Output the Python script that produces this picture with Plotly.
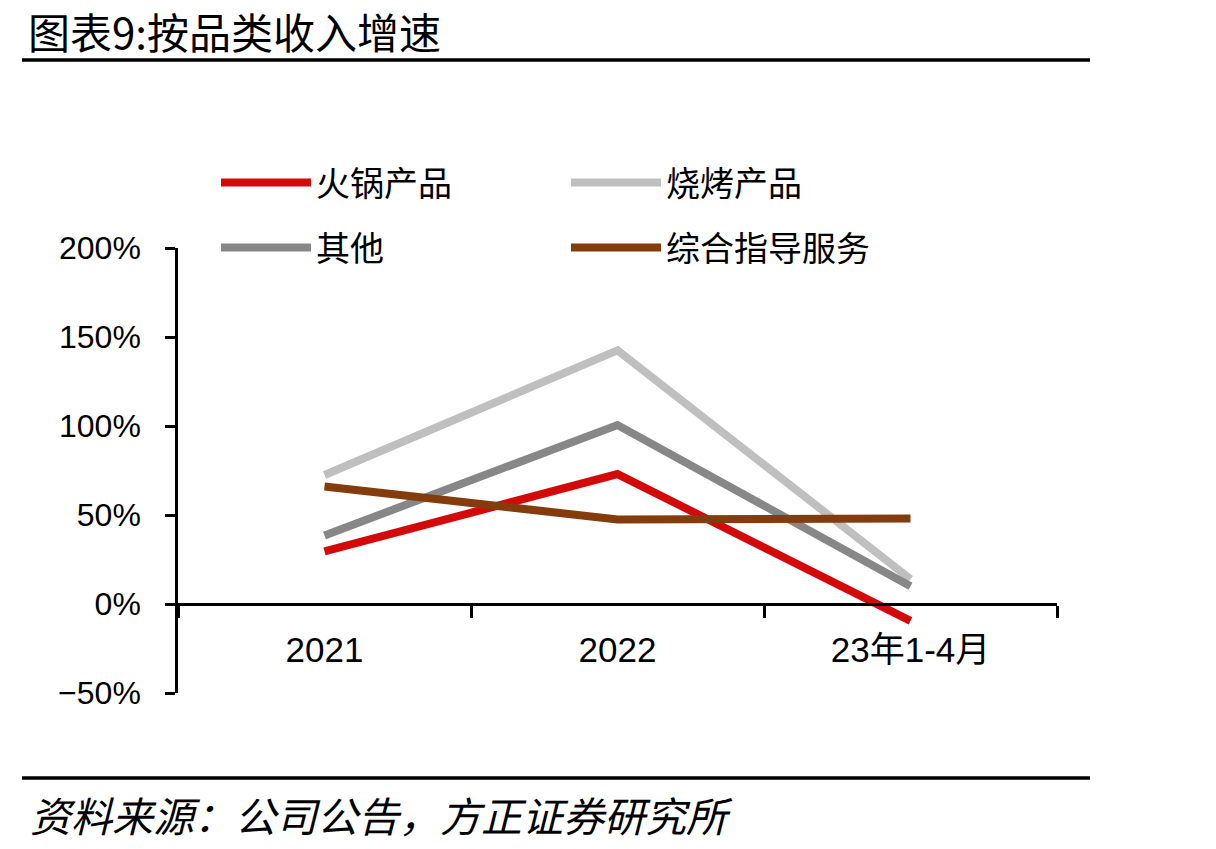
import plotly.graph_objects as go

categories = ["2021", "2022", "23年1-4月"]
hotpot = [29.5, 73.0, -9.5]
bbq = [72.5, 142.5, 14.0]
other = [38.5, 100.5, 10.0]
service = [66.0, 47.5, 48.0]

series_names = ["火锅产品", "烧烤产品", "其他", "综合指导服务"]
series_values = [hotpot, bbq, other, service]
series_colors = ["#D20A0A", "#BFBFBF", "#878787", "#843C0C"]
series_legend = ["legend", "legend", "legend2", "legend2"]

y_ticks = [-50, 0, 50, 100, 150, 200]
y_tick_labels = ["−50%", "0%", "50%", "100%", "150%", "200%"]

W, H = 1216, 849
L, R, T, B = 178, 159, 248, 156
pw, ph = W - L - R, H - T - B

def px(x):
    return (x - L) / pw

def py(y):
    return (H - B - y) / ph

cjk = "Noto Sans CJK SC"
num_font = "Liberation Sans, Arial, sans-serif"

fig = go.Figure()
for name, vals, col, lg in zip(series_names, series_values, series_colors, series_legend):
    fig.add_trace(go.Scatter(
        x=categories, y=vals, name=name, mode="lines",
        line=dict(color=col, width=8), legend=lg,
    ))

fig.update_layout(
    width=W, height=H,
    margin=dict(l=L, r=R, t=T, b=B),
    paper_bgcolor="white", plot_bgcolor="white",
    showlegend=True,
    legend=dict(
        orientation="h", x=px(216), xanchor="left", y=py(183), yanchor="middle",
        font=dict(family=cjk, size=34, color="black"),
        itemwidth=90, entrywidth=245, entrywidthmode="pixels",
        bgcolor="rgba(0,0,0,0)",
    ),
    legend2=dict(
        orientation="h", x=px(216), xanchor="left", y=py(248), yanchor="middle",
        font=dict(family=cjk, size=34, color="black"),
        itemwidth=90, entrywidth=245, entrywidthmode="pixels",
        bgcolor="rgba(0,0,0,0)",
    ),
    xaxis=dict(
        type="category", range=[-0.5, 2.5],
        anchor="free", position=0.2,
        showline=True, linecolor="black", linewidth=2.5,
        ticks="outside", tickson="boundaries", ticklen=12, tickwidth=2.5, tickcolor="black",
        tickfont=dict(family=num_font + ", " + cjk, size=35, color="black"),
        ticklabelstandoff=14,
        showgrid=False, zeroline=False,
    ),
    yaxis=dict(
        range=[-50, 200], tickmode="array", tickvals=y_ticks, ticktext=y_tick_labels,
        showline=True, linecolor="black", linewidth=2.5,
        ticks="outside", ticklen=10, tickwidth=2.5, tickcolor="black",
        tickfont=dict(family=num_font, size=32, color="black"),
        ticklabelstandoff=18,
        showgrid=False, zeroline=False,
    ),
    shapes=[
        dict(type="line", xref="paper", yref="paper", x0=px(22), x1=px(1090), y0=py(60), y1=py(60),
             line=dict(color="black", width=3.5)),
        dict(type="line", xref="paper", yref="paper", x0=px(22), x1=px(1090), y0=py(778), y1=py(778),
             line=dict(color="black", width=3.5)),
    ],
    annotations=[
        dict(text="图表9:按品类收入增速", xref="paper", yref="paper", x=px(26), y=py(31),
             xanchor="left", yanchor="middle", showarrow=False,
             font=dict(family=cjk, size=42, color="black")),
        dict(text="<i>资料来源：公司公告，方正证券研究所</i>", xref="paper", yref="paper",
             x=px(28), y=py(814), xanchor="left", yanchor="middle", showarrow=False,
             font=dict(family=cjk, size=41, color="black")),
    ],
)

fig.write_html("out.html")
